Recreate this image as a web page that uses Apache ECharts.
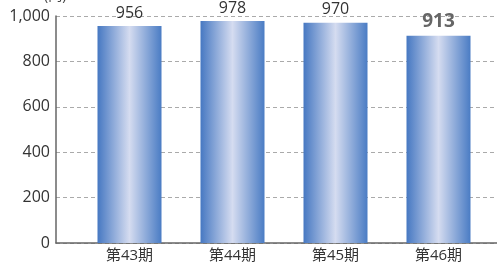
<!DOCTYPE html>
<html>
<head>
<meta charset="utf-8">
<script src="https://cdn.jsdelivr.net/npm/echarts@6/dist/echarts.min.js"></script>
<style>
  html, body { margin: 0; padding: 0; background: #fff; }
  #chart { width: 497px; height: 264px; }
</style>
</head>
<body>
<div id="chart"></div>
<script>
// data
const periods = ['第43期', '第44期', '第45期', '第46期']
const values = [956, 978, 970, 913]
const yMin = 0
const yMax = 1000
const yStep = 200

const font = '"Open Sans", "Noto Sans CJK JP", sans-serif'

const barColor = {
  type: 'linear', x: 0, y: 0, x2: 1, y2: 0,
  colorStops: [
    { offset: 0, color: '#4678c2' },
    { offset: 0.5, color: '#d5dcf0' },
    { offset: 1, color: '#4a7cc4' }
  ]
}

const chart = echarts.init(document.getElementById('chart'))

chart.setOption({
  animation: false,
  grid: [
    { left: 56, right: 0, top: 16, bottom: 21 },
    { left: 78, right: 7, top: 16, bottom: 21 }
  ],
  graphic: [{
    type: 'text', left: 44, top: -11,
    style: { text: '(円)', font: '14px ' + font, fill: '#444' }
  }],
  xAxis: [
    {
      type: 'value', gridIndex: 0, min: 0, max: 1,
      axisLine: { show: true, lineStyle: { color: '#666', width: 1.5 } },
      axisTick: { show: false }, axisLabel: { show: false }, splitLine: { show: false }
    },
    {
      type: 'category', gridIndex: 1, data: periods,
      axisLine: { show: false }, axisTick: { show: false },
      axisLabel: { color: '#333', fontSize: 15, fontFamily: font, margin: 5 }
    }
  ],
  yAxis: [
    {
      type: 'value', gridIndex: 0, min: yMin, max: yMax, interval: yStep,
      axisLine: { show: true, lineStyle: { color: '#666', width: 1.5 } },
      axisTick: { show: false },
      axisLabel: {
        color: '#333', fontSize: 16, fontFamily: font, margin: 6,
        formatter: v => v.toLocaleString('en-US')
      },
      splitLine: { lineStyle: { color: '#aaa', type: [4, 3], width: 1 } }
    },
    {
      type: 'value', gridIndex: 1, min: yMin, max: yMax, interval: yStep, show: false
    }
  ],
  series: [{
    type: 'bar', xAxisIndex: 1, yAxisIndex: 1,
    data: values.map((v, i) => ({
      value: v,
      label: i === values.length - 1
        ? { fontSize: 19, fontWeight: 'bold', color: '#666' }
        : {}
    })),
    barWidth: 64,
    itemStyle: { color: barColor },
    label: {
      show: true, position: 'top', distance: 5,
      color: '#333', fontSize: 16, fontFamily: font
    }
  }]
})
</script>
</body>
</html>
